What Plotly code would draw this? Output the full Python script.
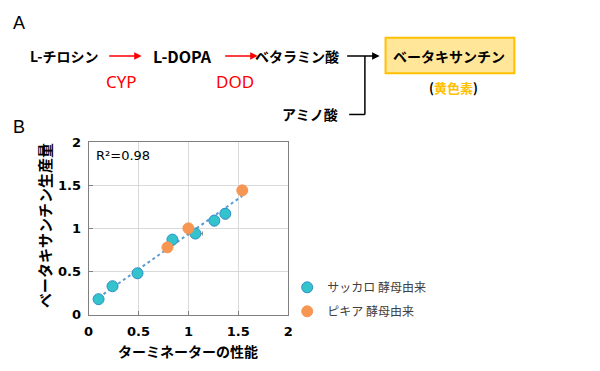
import numpy as np
import plotly.graph_objects as go

W, H = 600, 371

# ---- data ----
sacch_x = [0.10, 0.24, 0.49, 0.84, 1.07, 1.26, 1.37]
sacch_y = [0.18, 0.33, 0.48, 0.87, 0.94, 1.09, 1.17]
sacch_xerr = [0.01, 0.01, 0.01, 0.02, 0.07, 0.02, 0.02]
sacch_yerr = [0.01, 0.01, 0.01, 0.02, 0.02, 0.06, 0.06]
pichia_x = [0.79, 1.00, 1.54]
pichia_y = [0.78, 1.00, 1.44]
pichia_xerr = [0.01, 0.01, 0.02]
pichia_yerr = [0.01, 0.01, 0.05]
series_names = ["サッカロ 酵母由来", "ピキア 酵母由来"]
x_ticks = [0, 0.5, 1, 1.5, 2]
y_ticks = [0, 0.5, 1, 1.5, 2]
r2_label = "R²=0.98"

CJK = "Noto Sans CJK JP"
NUM = "DejaVu Sans"

def px(x):
    return x / W

def py(y):
    return 1 - y / H

fig = go.Figure()

# trend line (linear fit over all points)
all_x = np.array(sacch_x + pichia_x)
all_y = np.array(sacch_y + pichia_y)
slope, icpt = np.polyfit(all_x, all_y, 1)
tx = np.array([all_x.min(), all_x.max()])
fig.add_trace(go.Scatter(x=tx, y=slope * tx + icpt, mode="lines",
                         line=dict(color="#5B9BD5", width=2, dash="dot"),
                         showlegend=False, hoverinfo="skip"))

fig.add_trace(go.Scatter(
    x=sacch_x, y=sacch_y, mode="markers", name=series_names[0], legendgroup="s",
    marker=dict(size=11, color="#33C3CC", line=dict(color="#2E8FC8", width=1)),
    error_x=dict(type="data", array=sacch_xerr, color="#808080", thickness=1, width=2),
    error_y=dict(type="data", array=sacch_yerr, color="#808080", thickness=1, width=2),
))
fig.add_trace(go.Scatter(
    x=pichia_x, y=pichia_y, mode="markers", name=series_names[1], legendgroup="p",
    marker=dict(size=11, color="#F79552", line=dict(color="#F79552", width=1)),
    error_x=dict(type="data", array=pichia_xerr, color="#808080", thickness=1, width=2),
    error_y=dict(type="data", array=pichia_yerr, color="#808080", thickness=1, width=2),
))

axis_common = dict(
    showgrid=True, gridcolor="#D9D9D9", gridwidth=1,
    showline=True, linecolor="#7F7F7F", linewidth=1, mirror=True,
    ticks="inside", ticklen=4, tickcolor="#7F7F7F",
    zeroline=False,
    tickfont=dict(family=NUM, size=13, color="#000000", weight="bold"),
)

fig.update_layout(
    width=W, height=H,
    margin=dict(l=0, r=0, t=0, b=0),
    paper_bgcolor="white", plot_bgcolor="white",
    xaxis=dict(domain=[px(85), px(288)], range=[0, 2], tickvals=x_ticks,
               ticktext=[f"{v:g}" for v in x_ticks], ticklabelstandoff=5, **axis_common),
    yaxis=dict(domain=[py(320.7), py(140.7)], range=[0, 2], tickvals=y_ticks,
               ticktext=[f"{v:g}" for v in y_ticks], ticklabelstandoff=4, **axis_common),
    showlegend=True,
    legend=dict(x=px(287), y=py(277), xanchor="left", yanchor="top",
                font=dict(family=CJK, size=12, color="#404040"),
                bgcolor="rgba(0,0,0,0)", tracegroupgap=5),
)

ann = []

def txt(x, y, text, font, **kw):
    d = dict(x=px(x), y=py(y), xref="paper", yref="paper", text=text, showarrow=False,
             xanchor="center", yanchor="middle", font=font)
    d.update(kw)
    ann.append(d)

bold14 = dict(family=CJK, size=14, color="black", weight="bold")

# axis titles and R2
txt(186, 358, "ターミネーターの性能", bold14)
txt(40, 228, "ベータキサンチン生産量", dict(family=CJK, size=15, color="black", weight="bold"),
    textangle=-90)
txt(120, 155, r2_label, dict(family=NUM, size=13, color="#000000"))

# panel labels
txt(14, 17, "A", dict(family="Liberation Sans", size=18, color="black"))
txt(14, 125, "B", dict(family="Liberation Sans", size=18, color="black"))

# pathway texts
txt(60, 51, "L-チロシン", bold14)
txt(181, 51, "L-DOPA", dict(family=CJK, size=16, color="black", weight="bold"))
txt(297, 51, "ベタラミン酸", bold14)
txt(310, 112, "アミノ酸", bold14)
txt(118, 78, "CYP", dict(family="Noto Sans", size=17, color="#FF0000"))
txt(234, 78, "DOD", dict(family="Noto Sans", size=17, color="#FF0000"))
txt(452, 51, "ベータキサンチン", bold14)
txt(456, 84, "(<span style='color:#FFC000'>黄色素</span>)",
    dict(family=CJK, size=13, color="black", weight="bold"))

# arrows (tail given as pixel offset from head)
for x0, x1, col in [(105, 139, "#FF0000"), (223, 257, "#FF0000"), (347, 381, "#000000")]:
    ann.append(dict(x=px(x1), y=py(51), xref="paper", yref="paper", ax=x0 - x1, ay=0,
                    text="", showarrow=True,
                    arrowhead=2, arrowsize=1, arrowwidth=1.5, arrowcolor=col))

fig.update_layout(annotations=ann)

shapes = [
    dict(type="rect", xref="paper", yref="paper", x0=px(387), x1=px(518), y0=py(69), y1=py(32),
         fillcolor="#FFE699", line=dict(color="#FFC000", width=2), layer="below"),
    dict(type="line", xref="paper", yref="paper", x0=px(366), x1=px(366), y0=py(51), y1=py(112),
         line=dict(color="black", width=1.5)),
    dict(type="line", xref="paper", yref="paper", x0=px(350), x1=px(366), y0=py(112), y1=py(112),
         line=dict(color="black", width=1.5)),
]
fig.update_layout(shapes=shapes)

fig.write_html("out.html", config={"displayModeBar": False},
               post_script="document.body.style.margin='0px';")
